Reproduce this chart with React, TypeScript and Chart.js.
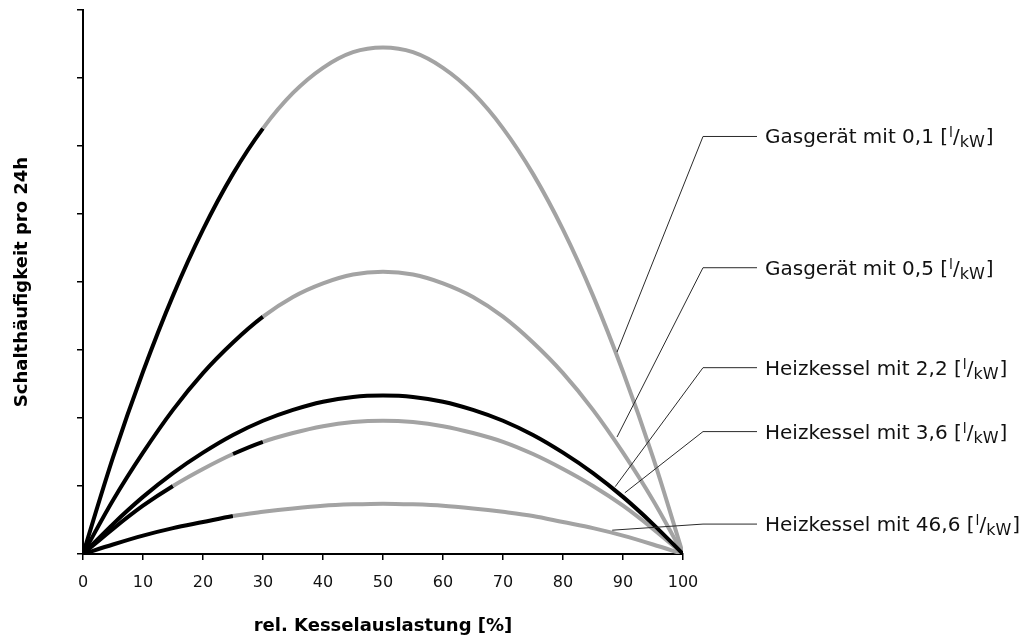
import React, { useEffect, useRef } from "react";
import { Chart, registerables } from "chart.js";

Chart.register(...registerables);

const xValues = [0, 5, 10, 15, 20, 25, 30, 35, 40, 45, 50, 55, 60, 65, 70, 75, 80, 85, 90, 95, 100];

const gas01 = [0, 1.42, 2.68, 3.80, 4.77, 5.59, 6.26, 6.78, 7.15, 7.38, 7.45, 7.38, 7.15, 6.78, 6.26, 5.59, 4.77, 3.80, 2.68, 1.42, 0];
const gas05 = [0, 0.79, 1.49, 2.12, 2.66, 3.11, 3.49, 3.78, 3.98, 4.11, 4.15, 4.11, 3.98, 3.78, 3.49, 3.11, 2.66, 2.12, 1.49, 0.79, 0];
const kessel22 = [0, 0.44, 0.84, 1.19, 1.49, 1.75, 1.96, 2.12, 2.24, 2.31, 2.33, 2.31, 2.24, 2.12, 1.96, 1.75, 1.49, 1.19, 0.84, 0.44, 0];
const kessel36 = [0, 0.37, 0.71, 1.00, 1.25, 1.47, 1.65, 1.78, 1.88, 1.94, 1.96, 1.94, 1.88, 1.78, 1.65, 1.47, 1.25, 1.00, 0.71, 0.37, 0];
const kessel466 = [0, 0.14, 0.27, 0.38, 0.47, 0.56, 0.62, 0.67, 0.71, 0.73, 0.74, 0.73, 0.71, 0.67, 0.62, 0.56, 0.47, 0.38, 0.27, 0.14, 0];

// x-ranges drawn in black (rest grey)
const black01 = [[0, 30]];
const black05 = [[0, 30]];
const black22 = [[0, 100]];
const black36 = [[0, 15], [25, 30]];
const black466 = [[0, 25]];

const seriesLabels = [
  "Gasgerät mit 0,1",
  "Gasgerät mit 0,5",
  "Heizkessel mit 2,2",
  "Heizkessel mit 3,6",
  "Heizkessel mit 46,6",
];
// annotation anchors (data units)
const labelY = [6.14, 4.21, 2.74, 1.8, 0.44];
const anchorX = [89, 89, 88.7, 90.3, 88.2];
const anchorY = [2.97, 1.72, 0.99, 0.9, 0.35];

const xTicks = [0, 10, 20, 30, 40, 50, 60, 70, 80, 90, 100];
const xTitle = "rel. Kesselauslastung [%]";
const yTitle = "Schalthäufigkeit pro 24h";

const BLACK = "#000000";
const GREY = "#a3a3a3";
const FONT = "'DejaVu Sans', Verdana, sans-serif";

function colorFor(ranges: number[][]) {
  return (ctx: any) => {
    const x0 = ctx.p0.parsed.x;
    const x1 = ctx.p1.parsed.x;
    const mid = (x0 + x1) / 2;
    for (const r of ranges) if (mid >= r[0] && mid <= r[1]) return BLACK;
    return GREY;
  };
}

const annotationPlugin = {
  id: "annotations",
  afterDatasetsDraw(chart: any) {
    const { ctx, scales } = chart;
    const xs = scales.x;
    const ys = scales.y;
    ctx.save();
    ctx.strokeStyle = "#2a2a2a";
    ctx.lineWidth = 1;
    const elbowX = xs.right + 20;
    const lineEnd = xs.right + 74;
    const textX = xs.right + 82;
    for (let i = 0; i < seriesLabels.length; i++) {
      const ax = xs.getPixelForValue(anchorX[i]);
      const ay = ys.getPixelForValue(anchorY[i]);
      const ly = ys.getPixelForValue(labelY[i]);
      ctx.beginPath();
      ctx.moveTo(ax, ay);
      ctx.lineTo(elbowX, ly);
      ctx.lineTo(lineEnd, ly);
      ctx.stroke();
      // text
      ctx.fillStyle = "#111";
      ctx.textBaseline = "alphabetic";
      ctx.textAlign = "left";
      const base = ly + 7;
      let x = textX;
      ctx.font = `20px ${FONT}`;
      const main = seriesLabels[i] + " [";
      ctx.fillText(main, x, base);
      x += ctx.measureText(main).width + 1;
      ctx.font = `14px ${FONT}`;
      ctx.fillText("l", x, base - 6);
      x += ctx.measureText("l").width;
      ctx.font = `20px ${FONT}`;
      ctx.fillText("/", x, base);
      x += ctx.measureText("/").width;
      ctx.font = `16px ${FONT}`;
      ctx.fillText("kW", x, base + 4);
      x += ctx.measureText("kW").width + 1;
      ctx.font = `20px ${FONT}`;
      ctx.fillText("]", x, base);
    }
    // axis titles
    ctx.fillStyle = "#000";
    ctx.font = `bold 18px ${FONT}`;
    ctx.textAlign = "center";
    ctx.textBaseline = "middle";
    ctx.fillText(xTitle, (xs.left + xs.right) / 2, 626);
    ctx.save();
    ctx.translate(22, (ys.top + ys.bottom) / 2);
    ctx.rotate(-Math.PI / 2);
    ctx.fillText(yTitle, 0, 0);
    ctx.restore();
    ctx.restore();
  },
};

export default function App() {
  const ref = useRef<HTMLCanvasElement | null>(null);
  useEffect(() => {
    document.body.style.margin = "0";
    const mk = (label: string, data: number[], ranges: number[][], order: number) => ({
      label,
      data: xValues.map((x, i) => ({ x, y: data[i] })),
      borderColor: BLACK,
      borderWidth: 4,
      pointRadius: 0,
      tension: 0.4,
      cubicInterpolationMode: "monotone" as const,
      fill: false,
      order,
      segment: { borderColor: colorFor(ranges) },
    });
    const chart = new Chart(ref.current as HTMLCanvasElement, {
      type: "line",
      data: {
        datasets: [
          mk(seriesLabels[0], gas01, black01, 2),
          mk(seriesLabels[1], gas05, black05, 3),
          mk(seriesLabels[2], kessel22, black22, 0),
          mk(seriesLabels[3], kessel36, black36, 4),
          mk(seriesLabels[4], kessel466, black466, 5),
        ],
      },
      options: {
        animation: false,
        responsive: true,
        maintainAspectRatio: false,
        layout: { padding: { top: 10, right: 350, left: 0, bottom: 0 } },
        plugins: { legend: { display: false }, tooltip: { enabled: false } },
        scales: {
          x: {
            type: "linear",
            min: 0,
            max: 100,
            afterBuildTicks: (s: any) => {
              s.ticks = xTicks.map((v) => ({ value: v }));
            },
            afterFit: (s: any) => {
              s.height = 84;
            },
            ticks: {
              font: { family: FONT, size: 16 },
              color: "#111",
              padding: 13,
              maxRotation: 0,
            },
            grid: { drawOnChartArea: false, drawTicks: true, tickLength: 6, color: "#000", lineWidth: 1.5 },
            border: { display: true, color: "#000", width: 2 },
          },
          y: {
            type: "linear",
            min: 0,
            max: 8,
            ticks: { stepSize: 1, callback: () => "", padding: 0 },
            afterFit: (s: any) => {
              s.width = 83;
            },
            grid: { drawOnChartArea: false, drawTicks: true, tickLength: 6, color: "#000", lineWidth: 1.5 },
            border: { display: true, color: "#000", width: 2 },
          },
        },
      },
      plugins: [annotationPlugin],
    });
    return () => chart.destroy();
  }, []);
  return (
    <div style={{ position: "absolute", left: 0, top: 0, width: 1033, height: 638, background: "#fff" }}>
      <canvas ref={ref} />
    </div>
  );
}
